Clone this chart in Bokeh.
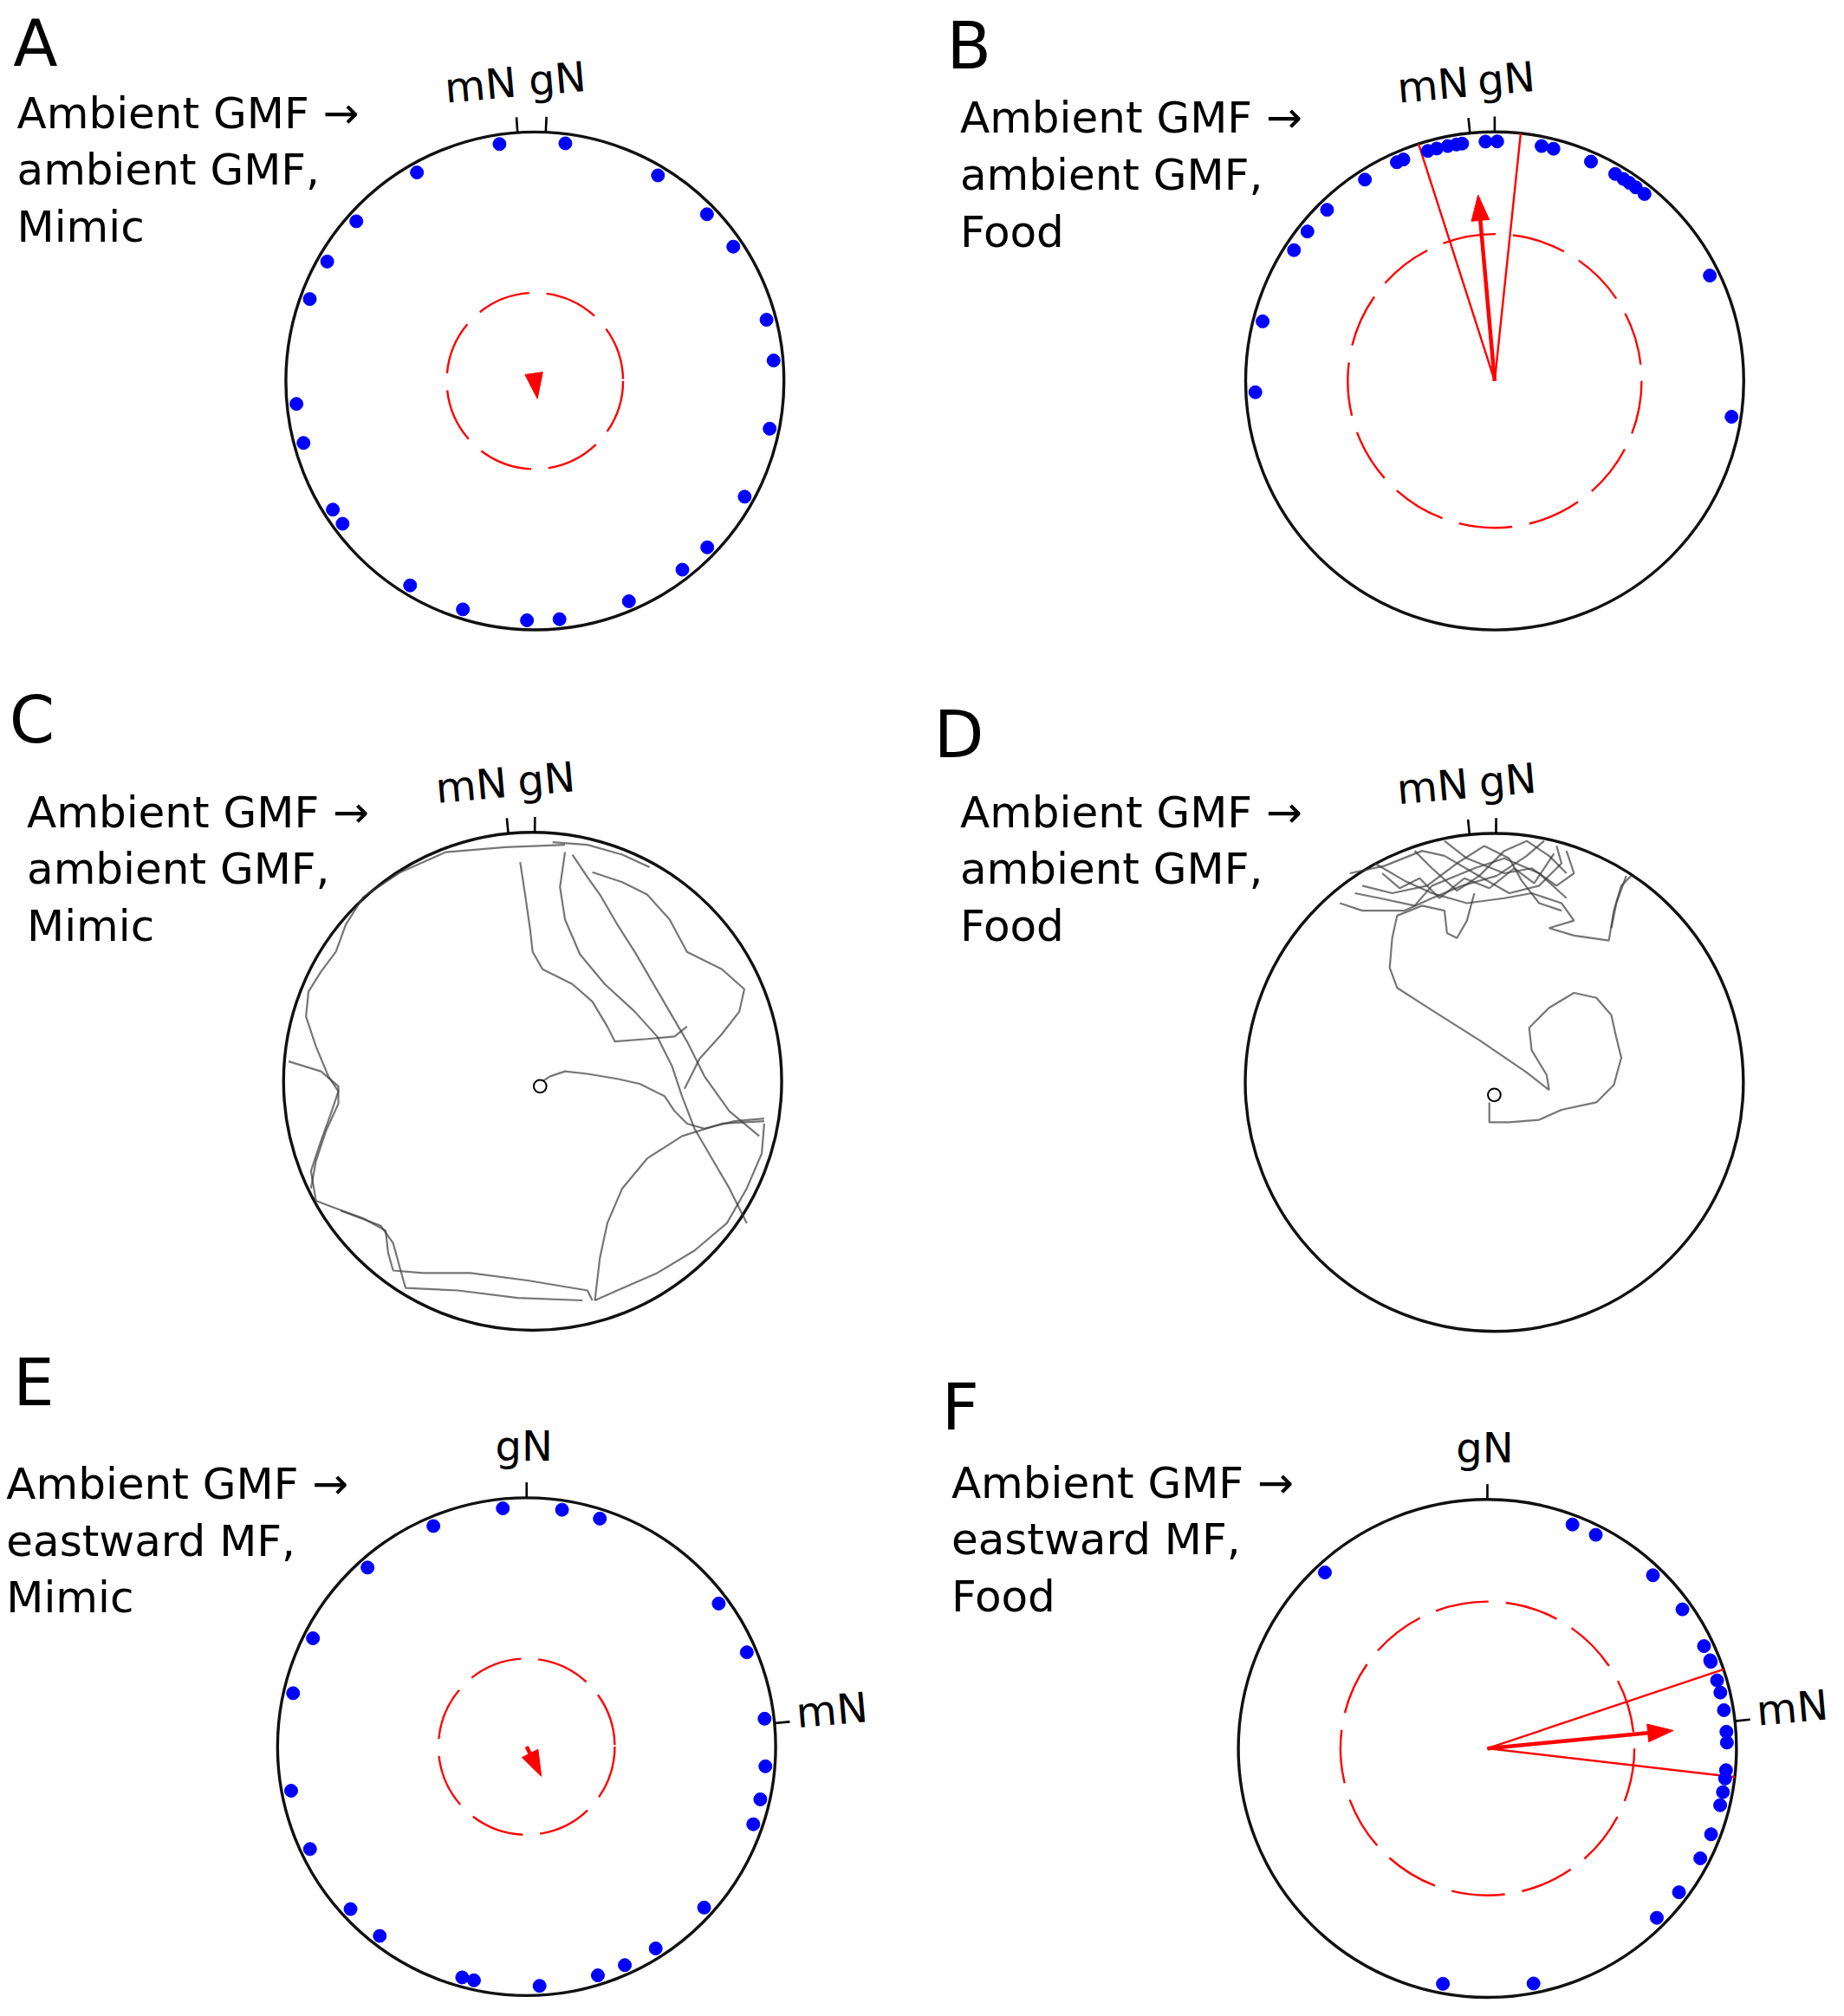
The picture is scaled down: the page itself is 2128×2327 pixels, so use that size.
import numpy as np
from bokeh.plotting import figure
from bokeh.models import Range1d
from bokeh.embed import file_html
from bokeh.resources import INLINE
from bokeh.core.properties import value

# ---------------- data ----------------
PANELS = ["A", "B", "C", "D", "E", "F"]
LINE1 = ["Ambient GMF →"] * 6
LINE2 = ["ambient GMF,", "ambient GMF,", "ambient GMF,", "ambient GMF,", "eastward MF,", "eastward MF,"]
LINE3 = ["Mimic", "Food", "Mimic", "Food", "Mimic", "Food"]

# tick directions (degrees clockwise from top)
GN_TICK = {"A": 2.5, "B": 0.0, "C": 0.5, "D": 0.4, "E": 0.0, "F": 0.0}
MN_TICK = {"A": -4.0, "B": -5.7, "C": -5.6, "D": -5.7, "E": 84.6, "F": 83.7}

# individual headings (degrees clockwise from gN)
A_DOTS = [-8.5, 7.3, -29.5, 30.9, -48.2, 45.9, -60.1, 55.9, -70.0, 75.2, 85.1, 264.5,
          255.0, 101.5, 237.5, 233.4, 118.9, 134.0, 142.0, 211.4, 197.5, 181.9, 174.1, 156.9]
B_DOTS = [-16.2, -14.0, -11.3, -9.2, -7.8, -2.2, 0.6, 11.3, 14.2, 23.7, 30.2, 32.5, 34.2,
          36.1, 38.7, -22.4, -24.1, -32.8, -44.4, -51.4, -56.9, -75.6, 267.3, 63.9, 98.6]
E_DOTS = [-5.7, 8.5, 17.8, -22.9, -41.6, 53.3, -63.1, 66.8, -77.1, 83.3, 94.7, 102.7, 108.9,
          259.4, 244.7, 227.3, 217.8, 132.2, 147.4, 155.8, 162.7, 176.9, 195.6, 192.7]
F_DOTS = [20.8, 26.9, -42.7, 43.7, 54.5, 64.7, 68.4, 68.8, 73.5, 76.5, 80.8, 86.0, 88.6,
          95.2, 97.2, 100.5, 103.7, 111.0, 117.3, 126.9, 135.0, 190.7, 168.9]
DOTS = {"A": A_DOTS, "B": B_DOTS, "E": E_DOTS, "F": F_DOTS}

# mean vector (angle, length), 95% CI, Rayleigh critical radius
MEAN = {"A": (172.0, 0.072), "B": (-5.1, 0.75), "E": (153.6, 0.133), "F": (84.5, 0.75)}
CI = {"B": (-17.8, 6.0), "F": (71.5, 96.6)}
CRIT = {"A": 0.354, "B": 0.59, "E": 0.354, "F": 0.59}

# swimming tracks, arena units (u right, v up, radius = 1)
C_START = (0.03, -0.02)
C_TRACKS = [
    [(0.04, 0.0), (0.07, 0.02), (0.13, 0.04), (0.22, 0.03), (0.34, 0.01), (0.43, -0.01), (0.53, -0.06),
     (0.57, -0.12), (0.62, -0.17), (0.69, -0.19), (0.81, -0.16), (0.93, -0.15)],
    [(0.13, 0.95), (-0.11, 0.94), (-0.35, 0.92), (-0.53, 0.84), (-0.68, 0.74), (-0.75, 0.63), (-0.79, 0.52),
     (-0.85, 0.44), (-0.90, 0.36), (-0.91, 0.26), (-0.87, 0.14), (-0.82, 0.02), (-0.78, -0.04), (-0.81, -0.13),
     (-0.85, -0.24), (-0.89, -0.36), (-0.87, -0.48), (-0.79, -0.51), (-0.68, -0.55), (-0.59, -0.60),
     (-0.58, -0.69), (-0.56, -0.76), (-0.44, -0.77), (-0.25, -0.77), (-0.02, -0.80), (0.22, -0.84), (0.24, -0.88)],
    [(-0.98, 0.08), (-0.85, 0.04), (-0.78, -0.02), (-0.78, -0.09), (-0.83, -0.20), (-0.87, -0.32), (-0.89, -0.43)],
    [(-0.77, -0.52), (-0.61, -0.58), (-0.56, -0.65), (-0.53, -0.76), (-0.51, -0.83), (-0.30, -0.84),
     (-0.06, -0.87), (0.20, -0.88)],
    [(-0.05, 0.88), (-0.03, 0.75), (-0.01, 0.61), (0.00, 0.52), (0.04, 0.45), (0.16, 0.39), (0.24, 0.32),
     (0.30, 0.22), (0.33, 0.16), (0.46, 0.17), (0.57, 0.18), (0.62, 0.22)],
    [(0.13, 0.92), (0.11, 0.78), (0.13, 0.65), (0.19, 0.51), (0.29, 0.39), (0.41, 0.28), (0.50, 0.18),
     (0.56, 0.06), (0.60, -0.06), (0.65, -0.19), (0.72, -0.31), (0.79, -0.43), (0.86, -0.57)],
    [(0.16, 0.91), (0.22, 0.82), (0.27, 0.75), (0.34, 0.63), (0.41, 0.52), (0.48, 0.40), (0.55, 0.28),
     (0.62, 0.16), (0.69, 0.02), (0.79, -0.12), (0.91, -0.22)],
    [(0.24, 0.84), (0.36, 0.80), (0.46, 0.75), (0.55, 0.65), (0.62, 0.52), (0.76, 0.45), (0.85, 0.37),
     (0.83, 0.28), (0.76, 0.19), (0.67, 0.09), (0.61, -0.03)],
    [(0.93, -0.16), (0.76, -0.17), (0.60, -0.22), (0.46, -0.31), (0.36, -0.43), (0.30, -0.57), (0.27, -0.71),
     (0.25, -0.88)],
    [(0.93, -0.17), (0.92, -0.29), (0.86, -0.43), (0.78, -0.57), (0.65, -0.68), (0.50, -0.77), (0.34, -0.84),
     (0.25, -0.88)],
    [(0.08, 0.96), (0.22, 0.95), (0.36, 0.91), (0.47, 0.86)],
]
D_START = (0.0, -0.05)
D_TRACKS = [
    [(-0.02, -0.08), (-0.02, -0.16), (0.06, -0.16), (0.18, -0.15), (0.27, -0.11), (0.41, -0.08), (0.48, -0.01),
     (0.51, 0.10), (0.49, 0.18), (0.47, 0.27), (0.41, 0.34), (0.32, 0.36), (0.22, 0.30), (0.14, 0.22),
     (0.15, 0.13), (0.21, 0.03), (0.22, -0.03), (0.13, 0.04), (-0.06, 0.17), (-0.25, 0.29), (-0.39, 0.38),
     (-0.42, 0.46), (-0.41, 0.58), (-0.39, 0.67), (-0.29, 0.71), (-0.20, 0.69), (-0.19, 0.60), (-0.15, 0.58),
     (-0.11, 0.65), (-0.08, 0.76)],
    [(-0.58, 0.84), (-0.44, 0.87), (-0.29, 0.93), (-0.20, 0.91), (-0.08, 0.84), (0.06, 0.76), (0.18, 0.79),
     (0.27, 0.88), (0.25, 0.95)],
    [(-0.62, 0.72), (-0.53, 0.69), (-0.36, 0.69), (-0.25, 0.74), (-0.13, 0.79), (0.01, 0.83), (0.13, 0.91),
     (0.20, 0.97)],
    [(-0.48, 0.88), (-0.36, 0.81), (-0.25, 0.76), (-0.11, 0.72), (0.04, 0.74), (0.15, 0.76), (0.27, 0.72),
     (0.32, 0.65), (0.22, 0.62), (0.32, 0.59), (0.46, 0.57), (0.48, 0.69), (0.51, 0.79), (0.55, 0.83)],
    [(-0.32, 0.93), (-0.25, 0.86), (-0.15, 0.77), (-0.06, 0.83), (0.04, 0.93), (0.13, 0.97), (0.22, 0.91),
     (0.29, 0.84)],
    [(-0.53, 0.79), (-0.41, 0.76), (-0.27, 0.79), (-0.15, 0.88), (-0.04, 0.95), (0.06, 0.90), (0.11, 0.81),
     (0.18, 0.72), (0.27, 0.69)],
    [(-0.20, 0.97), (-0.11, 0.90), (0.04, 0.84), (0.15, 0.86), (0.25, 0.79), (0.32, 0.84), (0.29, 0.93)],
    [(-0.56, 0.76), (-0.46, 0.74), (-0.32, 0.71), (-0.25, 0.79), (-0.08, 0.86), (0.04, 0.90), (0.18, 0.84),
     (0.29, 0.74)],
    [(-0.45, 0.84), (-0.38, 0.78), (-0.30, 0.82), (-0.22, 0.74), (-0.12, 0.82), (-0.02, 0.78), (0.08, 0.86),
     (0.16, 0.80), (0.24, 0.92)],
    [(0.53, 0.83), (0.49, 0.72), (0.47, 0.62)],
]
TRACKS = {"C": (C_START, C_TRACKS), "D": (D_START, D_TRACKS)}

# ---------------- layout ----------------
CENTER = {"A": (418.5, 298.0), "B": (1170.0, 298.0), "C": (416.7, 846.5),
          "D": (1169.7, 847.4), "E": (412.0, 1367.6), "F": (1164.3, 1369.0)}
RAD = 195.0
DOT_FRAC = 0.962
LETTER_POS = {"A": (10, 49), "B": (741, 51), "C": (7, 579), "D": (731, 590), "E": (10, 1098), "F": (737, 1117)}
TEXT_POS = {"A": (12.9, 98.6), "B": (751.4, 102.4), "C": (20.7, 646.0), "D": (751.4, 646.2),
            "E": (4.6, 1172.1), "F": (744.6, 1171.1)}
LINE_GAP = 44.5
FONT = value("DejaVu Sans")
TILT = np.deg2rad(5.0)
BODY_PX = 50
NORTH_PX = 48
LETTER_PX = 75

W, H = 2112, 2311
S = W / 1433.0
p = figure(width=W, height=H, x_range=Range1d(0, W / S), y_range=Range1d(H / S, 0),
           output_backend="svg", toolbar_location=None, min_border=0,
           x_axis_location=None, y_axis_location=None)
p.grid.visible = False
p.outline_line_color = None
p.background_fill_color = "white"


def tcorr(px):
    # empirical baseline correction of the svg text, in data units
    return 0.30 * px / S


def pol(c, ang, frac):
    a = np.deg2rad(np.asarray(ang, dtype=float))
    return c[0] + RAD * frac * np.sin(a), c[1] - RAD * frac * np.cos(a)


def label(xs, ys, texts, px, align="left", angle=0.0):
    p.text(x=xs, y=[y - tcorr(px) for y in ys], text=texts, text_font=FONT,
           text_font_size=value(f"{px}px"), text_baseline="alphabetic", text_align=align,
           angle=angle, text_color="black")


for i, k in enumerate(PANELS):
    c = CENTER[k]
    lx, ly = LETTER_POS[k]
    label([lx], [ly], [k], LETTER_PX)
    tx, ty = TEXT_POS[k]
    label([tx] * 3, [ty, ty + LINE_GAP, ty + 2 * LINE_GAP], [LINE1[i], LINE2[i], LINE3[i]], BODY_PX)

    # arena
    p.circle(x=[c[0]], y=[c[1]], radius=RAD, fill_color=None, line_color="#111111", line_width=3.4)

    # ticks
    for ang in (GN_TICK[k], MN_TICK[k]):
        x0, y0 = pol(c, ang, 1.0)
        x1, y1 = pol(c, ang, 1.0 + 12.0 / RAD)
        p.line(x=[x0, x1], y=[y0, y1], line_color="black", line_width=2.6)
    top = c[1] - RAD
    if k in ("A", "B", "C", "D"):
        mx, _ = pol(c, MN_TICK[k], 1.0)
        gx, _ = pol(c, GN_TICK[k], 1.0)
        label([mx - 29, gx + 9], [top - 27, top - 32], ["mN", "gN"], NORTH_PX, align="center", angle=TILT)
    else:
        gx, _ = pol(c, GN_TICK[k], 1.0)
        label([gx - 2], [top - 31], ["gN"], NORTH_PX, align="center")
        ex, ey = pol(c, MN_TICK[k], 1.0 + 12.0 / RAD)
        label([ex + 5], [ey + 3], ["mN"], NORTH_PX, align="left", angle=TILT)

    # circular statistics panels
    if k in DOTS:
        p.circle(x=[c[0]], y=[c[1]], radius=RAD * CRIT[k], fill_color=None, line_color="red",
                 line_width=2.4, line_dash="62 20")
        if k in CI:
            for ang in CI[k]:
                x1, y1 = pol(c, ang, 1.0)
                p.line(x=[c[0], x1], y=[c[1], y1], line_color="red", line_width=2.4)
        ang, r = MEAN[k]
        tipx, tipy = pol(c, ang, r)
        a = np.deg2rad(ang)
        d = np.array([np.sin(a), -np.cos(a)])
        n = np.array([np.cos(a), np.sin(a)])
        L, w = 20.0, 7.0
        base = np.array([tipx, tipy]) - L * d
        if r * RAD > L:
            p.line(x=[c[0], base[0]], y=[c[1], base[1]], line_color="red", line_width=4.5)
        p.patch(x=[tipx, base[0] + w * n[0], base[0] - w * n[0]],
                y=[tipy, base[1] + w * n[1], base[1] - w * n[1]], fill_color="red", line_color="red",
                line_width=1)
        dx, dy = pol(c, DOTS[k], DOT_FRAC)
        p.scatter(x=dx, y=dy, size=15, marker="circle", fill_color="#0000ff", line_color="#0000ff")

    # swimming tracks
    if k in TRACKS:
        start, tracks = TRACKS[k]
        xs = [[c[0] + RAD * u for u, v in t] for t in tracks]
        ys = [[c[1] - RAD * v for u, v in t] for t in tracks]
        p.multi_line(xs=xs, ys=ys, line_color="#3c3c3c", line_alpha=0.7, line_width=2.2)
        p.circle(x=[c[0] + RAD * start[0]], y=[c[1] - RAD * start[1]], radius=5, fill_color="white",
                 line_color="black", line_width=2)

open("out.html", "w").write(file_html(p, INLINE))
